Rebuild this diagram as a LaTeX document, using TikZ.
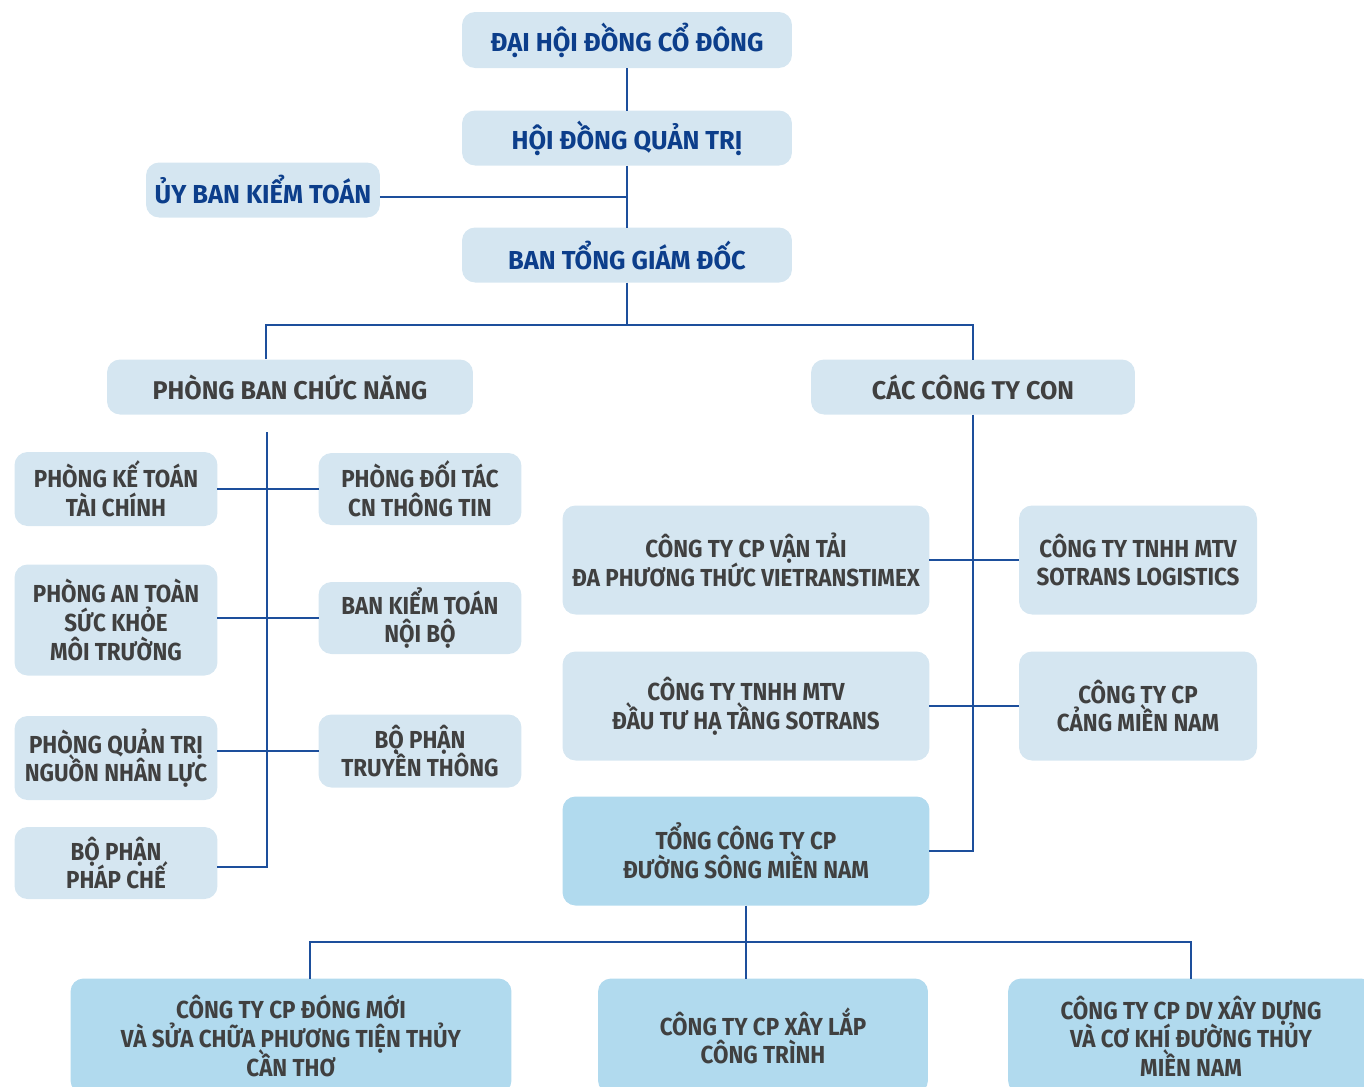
\documentclass[tikz,border=0pt]{standalone}
\usepackage{fontspec}
\setmainfont{Fira Sans}[FakeStretch=0.91]
\newfontfamily\headfont{Fira Sans}[FakeStretch=0.98]
\usepackage{xcolor}
\usepackage{tikz}

\definecolor{boxpale}{HTML}{D5E6F1}
\definecolor{boxsky}{HTML}{B1DAEE}
\definecolor{navytext}{HTML}{0C3E8B}
\definecolor{greytext}{HTML}{404040}
\definecolor{linkblue}{HTML}{1D4F9C}
\setlength{\lineskiplimit}{-20pt}

\begin{document}
\begin{tikzpicture}[x=0.02cm,y=-0.02cm,
	unit/.style={rounded corners=0.26cm,inner sep=0pt,outer sep=0pt,align=center,font=\bfseries\fontsize{14}{16.3}\selectfont,text=greytext,fill=boxpale},
	toplevel/.style={unit,text=navytext,font=\headfont\bfseries\fontsize{14.8}{17}\selectfont},
	branch/.style={unit,font=\headfont\bfseries\fontsize{14.6}{17}\selectfont},
	subsidiary/.style={unit,fill=boxsky},
	link/.style={draw=linkblue,line width=1.1pt}]
				\useasboundingbox (0,0) rectangle (1364,1086);
				\clip (0,0) rectangle (1364,1086);

				% top of the chart
				\node[toplevel,minimum width=6.6cm,minimum height=1.12cm] (dhdcd) at (627,40) {ĐẠI HỘI ĐỒNG CỔ ĐÔNG};
				\node[toplevel,minimum width=6.6cm,minimum height=1.1cm] (hdqt) at (627,138) {HỘI ĐỒNG QUẢN TRỊ};
				\node[toplevel,minimum width=4.68cm,minimum height=1.1cm] (ubkt) at (263,190) {ỦY BAN KIỂM TOÁN};
				\node[toplevel,minimum width=6.6cm,minimum height=1.1cm] (btgd) at (627,255) {BAN TỔNG GIÁM ĐỐC};

				\node[branch,minimum width=7.32cm,minimum height=1.1cm] (pbcn) at (290,387) {PHÒNG BAN CHỨC NĂNG};
				\node[branch,minimum width=6.48cm,minimum height=1.1cm] (cctc) at (973,387) {CÁC CÔNG TY CON};

				% phong ban
				\node[unit,minimum width=4.06cm,minimum height=1.48cm] (pkt) at (116,489) {PHÒNG KẾ TOÁN\\TÀI CHÍNH};
				\node[unit,minimum width=4.06cm,minimum height=2.22cm] (pat) at (116,620) {PHÒNG AN TOÀN\\SỨC KHỎE\\MÔI TRƯỜNG};
				\node[unit,minimum width=4.06cm,minimum height=1.68cm] (pqt) at (116,758) {PHÒNG QUẢN TRỊ\\NGUỒN NHÂN LỰC};
				\node[unit,minimum width=4.06cm,minimum height=1.44cm] (bppc) at (116,863) {BỘ PHẬN\\PHÁP CHẾ};
				\node[unit,minimum width=4.06cm,minimum height=1.44cm] (pdt) at (420,489) {PHÒNG ĐỐI TÁC\\CN THÔNG TIN};
				\node[unit,minimum width=4.06cm,minimum height=1.44cm] (bkt) at (420,618) {BAN KIỂM TOÁN\\NỘI BỘ};
				\node[unit,minimum width=4.06cm,minimum height=1.46cm] (bptt) at (420,751) {BỘ PHẬN\\TRUYỀN THÔNG};

				% cong ty con
				\node[unit,minimum width=7.34cm,minimum height=2.18cm] (vts) at (746,560) {CÔNG TY CP VẬN TẢI\\ĐA PHƯƠNG THỨC VIETRANSTIMEX};
				\node[unit,minimum width=7.34cm,minimum height=2.18cm] (dtht) at (746,706) {CÔNG TY TNHH MTV\\ĐẦU TƯ HẠ TẦNG SOTRANS};
				\node[subsidiary,minimum width=7.34cm,minimum height=2.18cm] (tct) at (746,851) {TỔNG CÔNG TY CP\\ĐƯỜNG SÔNG MIỀN NAM};
				\node[unit,minimum width=4.76cm,minimum height=2.18cm] (sl) at (1138,560) {CÔNG TY TNHH MTV\\SOTRANS LOGISTICS};
				\node[unit,minimum width=4.76cm,minimum height=2.18cm] (cmn) at (1138,706) {CÔNG TY CP\\CẢNG MIỀN NAM};

				% cong ty cua tong cong ty
				\node[subsidiary,minimum width=8.82cm,minimum height=2.3cm] (dmct) at (291,1036) {CÔNG TY CP ĐÓNG MỚI\\VÀ SỬA CHỮA PHƯƠNG TIỆN THỦY\\CẦN THƠ};
				\node[subsidiary,minimum width=6.6cm,minimum height=2.3cm] (xlct) at (763,1036) {CÔNG TY CP XÂY LẮP\\CÔNG TRÌNH};
				\node[subsidiary,minimum width=7.32cm,minimum height=2.3cm] (dvxd) at (1191,1036) {CÔNG TY CP DV XÂY DỰNG\\VÀ CƠ KHÍ ĐƯỜNG THỦY\\MIỀN NAM};

				\coordinate (mid) at (627,197);
				\coordinate (fork) at (627,325);
				\coordinate (pbtop) at (266,359);
				\coordinate (spinetop) at (267,432);
				\coordinate (spinebot) at (267,867);
				\coordinate (tcfork) at (746,942);
				\coordinate (leftdrop) at (310,942);

				\path[link] (dhdcd) edge (hdqt);
				\path[link] (hdqt) edge (btgd);
				\path[link] (ubkt.east |- mid) edge (mid);
				\path[link] (btgd) edge (fork);
				\draw[link] (pbtop) |- (fork) -| (cctc.north);
				\draw[link] (spinetop) -- (spinebot) -- (bppc.east |- spinebot);
				\path[link] (pkt.east) edge (pdt.west);
				\path[link] (pat.east |- bkt) edge (bkt.west);
				\path[link] (pqt.east |- bptt) edge (bptt.west);
				\draw[link] (cctc.south) |- (tct.east);
				\path[link] (vts.east) edge (sl.west);
				\path[link] (dtht.east) edge (cmn.west);
				\path[link] (tct.south) edge (tcfork);
				\draw[link] (leftdrop |- dmct.north) -- (leftdrop) -| (dvxd.north);
				\path[link] (tcfork) edge (tcfork |- xlct.north);
			\end{tikzpicture}
\end{document}
